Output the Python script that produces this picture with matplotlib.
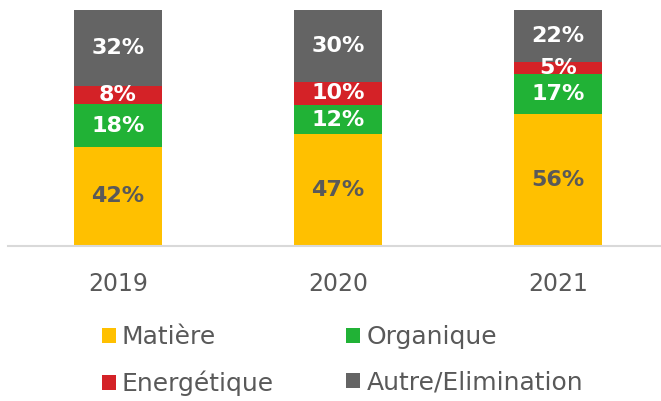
import matplotlib.pyplot as plt
from matplotlib.patches import Patch

years = ["2019", "2020", "2021"]
series = ["Matière", "Organique", "Energétique", "Autre/Elimination"]
matiere = [42, 47, 56]
organique = [18, 12, 17]
energetique = [8, 10, 5]
autre = [32, 30, 22]
colors = ["#FFC000", "#21B236", "#D42227", "#646464"]
label_colors = ["#595959", "white", "white", "white"]

plt.rcParams['font.family'] = ['DejaVu Sans']

fig = plt.figure(figsize=(6.61, 4.01), dpi=100)
ax = fig.add_axes([8 / 661, 155 / 401, 652 / 661, 236 / 401])

values = [matiere, organique, energetique, autre]
totals = [sum(v[i] for v in values) for i in range(len(years))]
x = list(range(len(years)))
bottom = [0.0] * len(years)
for vals, col, lc in zip(values, colors, label_colors):
    h = [vals[i] / totals[i] * 100 for i in range(len(years))]
    ax.bar(x, h, 0.4, bottom=bottom, color=col, edgecolor='none')
    for i in range(len(years)):
        ax.text(x[i], bottom[i] + h[i] / 2, f"{vals[i]}%", ha='center', va='center',
                color=lc, fontsize=16, fontweight='bold')
    bottom = [bottom[i] + h[i] for i in range(len(years))]

ax.set_xlim(-0.5, 2.464)
ax.set_ylim(0, 100)
for s in ['top', 'right', 'left']:
    ax.spines[s].set_visible(False)
ax.spines['bottom'].set_color('#D9D9D9')
ax.spines['bottom'].set_linewidth(1.5)
ax.set_yticks([])
ax.set_xticks(x)
ax.set_xticklabels(years, fontsize=17, color='#595959')
ax.tick_params(axis='x', length=0, pad=19)

handles = [Patch(facecolor=c, edgecolor='none') for c in colors]
order = [0, 2, 1, 3]
leg = fig.legend([handles[i] for i in order], [series[i] for i in order],
                 ncol=2, loc='center', bbox_to_anchor=(0.518, 0.101), frameon=False,
                 fontsize=18, handlelength=0.55, handleheight=0.55, handletextpad=0.25,
                 columnspacing=2.9, labelspacing=0.86, borderpad=0)
for t in leg.get_texts():
    t.set_color('#595959')

fig.savefig('out.png', dpi=100)
